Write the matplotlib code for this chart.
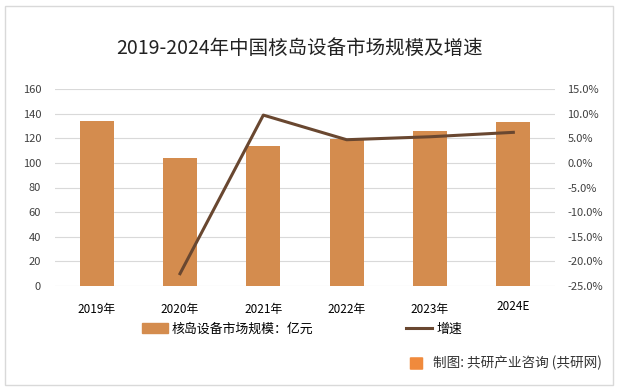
import matplotlib
matplotlib.use("Agg")
import matplotlib.pyplot as plt
from matplotlib.patches import Rectangle, FancyBboxPatch
from matplotlib.lines import Line2D
import matplotlib.ticker as mticker

plt.rcParams['font.family'] = ['Noto Sans CJK SC', 'DejaVu Sans']

categories = ["2019年", "2020年", "2021年", "2022年", "2023年", "2024E"]
market_size = [134.0, 104.0, 113.8, 119.4, 125.9, 133.3]
growth_years = ["2020年", "2021年", "2022年", "2023年", "2024E"]
growth_pct = [-22.5, 9.7, 4.7, 5.3, 6.2]

bar_color = "#D48C4E"
line_color = "#694730"

fig = plt.figure(figsize=(6.19, 3.90), dpi=100)
fig.patches.append(Rectangle((0.008, 0.013), 0.982, 0.972, transform=fig.transFigure,
                             fill=False, edgecolor="#D9D9D9", linewidth=1.0))

ax = fig.add_axes([55/619, 1-286/390, 500/619, 197/390])
x = list(range(len(categories)))
ax.bar(x, market_size, width=0.41, color=bar_color, zorder=3)
ax.set_xlim(-0.5, len(categories)-0.5)
ax.set_ylim(0, 160)
ax.set_yticks(range(0, 161, 20))
ax.grid(axis='y', color="#D9D9D9", linewidth=0.8, zorder=0)
for s in ax.spines.values():
    s.set_visible(False)
ax.tick_params(axis='y', length=0, labelsize=8, labelcolor="#404040", pad=10)
ax.tick_params(axis='x', length=0, labelsize=8.5, pad=12)
ax.set_xticks(x)
ax.set_xticklabels(categories)
for lbl in ax.get_xticklabels():
    if lbl.get_text().endswith("E"):
        lbl.set_y(0.012)

ax2 = ax.twinx()
gx = [categories.index(c) for c in growth_years]
ax2.plot(gx, growth_pct, color=line_color, linewidth=2.2, zorder=4)
ax2.set_ylim(-25, 15)
ax2.set_yticks(range(-25, 16, 5))
ax2.yaxis.set_major_formatter(mticker.FuncFormatter(lambda v, p: f"{v:.1f}%"))
for s in ax2.spines.values():
    s.set_visible(False)
ax2.tick_params(axis='y', length=0, labelsize=8, labelcolor="#404040", pad=9)

fig.text(300/619, 1-48/390, "2019-2024年中国核岛设备市场规模及增速", ha='center', va='center',
         fontsize=14, color="#222222")

handles = [Rectangle((0, 0), 1, 1, color=bar_color),
           Line2D([0], [0], color=line_color, linewidth=2.2)]
fig.legend(handles, ["核岛设备市场规模：亿元", "增速"], loc='center',
           bbox_to_anchor=(302/619, 1-329/390), ncol=2, frameon=False,
           fontsize=9.3, columnspacing=7.2, handlelength=2.0, handletextpad=0.3)

# footer logo and text
fig.patches.append(FancyBboxPatch((411/619, 1-369/390), 11/619, 11/390,
                                  boxstyle="round,pad=0.002", transform=fig.transFigure,
                                  facecolor="#F08A3C", edgecolor="none"))
fig.text(433/619, 1-363/390, "制图: 共研产业咨询 (共研网)", ha='left', va='center',
         fontsize=9.8, color="#333333")

fig.savefig("out.png", dpi=100)
